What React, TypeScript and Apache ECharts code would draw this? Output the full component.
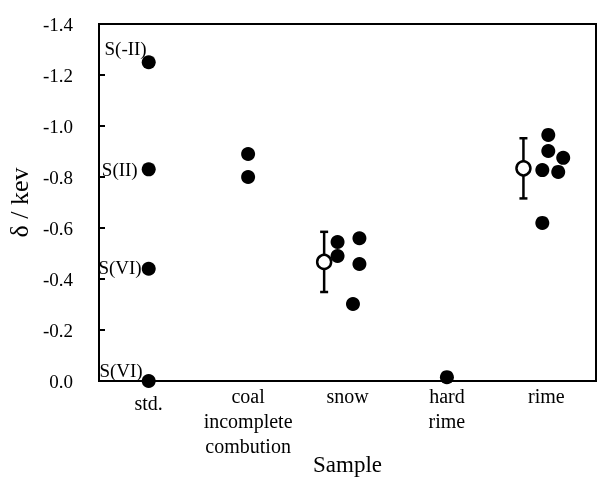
import React, { useEffect, useRef } from "react";
import * as echarts from "echarts";

const categories = ["std.", "coal\nincomplete\ncombution", "snow", "hard\nrime", "rime"];
const yTicks = { min: -1.4, max: 0, interval: 0.2 };

// standards (x position, value, label)
const stdX = [0.5, 0.5, 0.5, 0.5];
const stdY = [-1.25, -0.83, -0.44, 0.0];
const stdLabels = ["S(-II)", "S(II)", "S(VI)", "S(VI)"];

// sample points [x position within category, value]
const coalPts = [[1.5, -0.89], [1.5, -0.8]];
const snowPts = [[2.4, -0.545], [2.4, -0.49], [2.62, -0.56], [2.62, -0.459], [2.555, -0.302]];
const hardRimePts = [[3.5, -0.015]];
const rimePts = [[4.52, -0.965], [4.52, -0.902], [4.67, -0.875], [4.46, -0.827], [4.62, -0.82], [4.46, -0.62]];

// means with error (x, mean, error)
const meanX = [2.265, 4.27];
const meanY = [-0.467, -0.834];
const meanErr = [0.118, 0.118];

const FONT = "Liberation Serif";

export default function App() {
  const ref = useRef<HTMLDivElement>(null);
  useEffect(() => {
    if (!ref.current) return;
    const chart = echarts.init(ref.current, undefined, { renderer: "svg" });
    const labelOffsets = [[7, -14], [-2, 0], [2, -1], [3, -11]];
    const stdData = stdX.map((x, i) => ({
      value: [x, stdY[i]],
      label: {
        show: true,
        position: "left",
        distance: 2,
        formatter: stdLabels[i],
        offset: labelOffsets[i],
        color: "#000",
        fontFamily: FONT,
        fontSize: 19,
      },
    }));
    const filled = [...coalPts, ...snowPts, ...hardRimePts, ...rimePts];
    const errData = meanX.map((x, i) => [x, meanY[i] - meanErr[i], meanY[i] + meanErr[i]]);
    chart.setOption({
      animation: false,
      grid: { left: 99, top: 24, right: 2, bottom: 96, show: true, borderColor: "#000", borderWidth: 2, outerBoundsMode: "none", containLabel: false },
      xAxis: [
        {
          type: "category",
          data: categories,
          name: "Sample",
          nameLocation: "middle",
          nameGap: 72,
          nameMoveOverlap: false,
          nameTextStyle: { fontFamily: FONT, fontSize: 23, color: "#000" },
          axisLine: { lineStyle: { color: "#000", width: 2 } },
          axisTick: { inside: true, length: 6, interval: 0, lineStyle: { color: "#000", width: 2 } },
          axisLabel: {
            interval: 0,
            margin: 2,
            color: "#000",
            fontFamily: FONT,
            fontSize: 20,
            lineHeight: 25,
            formatter: (v: string) => (v === "std." ? "{a|std.}" : v),
            rich: { a: { fontFamily: FONT, fontSize: 20, color: "#000", lineHeight: 25, padding: [14, 0, 0, 0] } },
          },
        },
        { type: "value", min: 0, max: 5, show: false },
      ],
      yAxis: {
        type: "value",
        min: yTicks.min,
        max: yTicks.max,
        interval: yTicks.interval,
        inverse: true,
        name: "δ / kev",
        nameLocation: "middle",
        nameGap: 67,
        nameMoveOverlap: false,
        nameTextStyle: { fontFamily: FONT, fontSize: 26, color: "#000" },
        axisLine: { show: true, lineStyle: { color: "#000", width: 2 } },
        axisTick: { show: true, inside: true, length: 6, lineStyle: { color: "#000", width: 2 } },
        axisLabel: { margin: 26, color: "#000", fontFamily: FONT, fontSize: 19, formatter: (v: number) => v.toFixed(1) },
        splitLine: { show: false },
      },
      series: [
        { type: "scatter", xAxisIndex: 1, data: stdData, symbolSize: 14, clip: false, itemStyle: { color: "#000", opacity: 1 } },
        { type: "scatter", xAxisIndex: 1, data: filled, symbolSize: 14, clip: false, itemStyle: { color: "#000", opacity: 1 } },
        {
          type: "custom",
          xAxisIndex: 1,
          data: errData,
          renderItem: (params: any, api: any) => {
            const x = api.value(0);
            const lo = api.coord([x, api.value(1)]);
            const hi = api.coord([x, api.value(2)]);
            const cap = 4;
            const style = { stroke: "#000", lineWidth: 2.5 };
            return {
              type: "group",
              children: [
                { type: "line", shape: { x1: lo[0], y1: lo[1], x2: hi[0], y2: hi[1] }, style },
                { type: "line", shape: { x1: lo[0] - cap, y1: lo[1], x2: lo[0] + cap, y2: lo[1] }, style },
                { type: "line", shape: { x1: hi[0] - cap, y1: hi[1], x2: hi[0] + cap, y2: hi[1] }, style },
              ],
            };
          },
        },
        {
          type: "scatter",
          xAxisIndex: 1,
          data: meanX.map((x, i) => [x, meanY[i]]),
          symbolSize: 14,
          clip: false,
          itemStyle: { color: "#fff", borderColor: "#000", borderWidth: 2.5, opacity: 1 },
        },
      ],
    });
    return () => chart.dispose();
  }, []);
  return (
    <div style={{ position: "fixed", left: 0, top: 0, width: 598, height: 477 }}>
      <div ref={ref} style={{ width: 598, height: 477 }} />
    </div>
  );
}
